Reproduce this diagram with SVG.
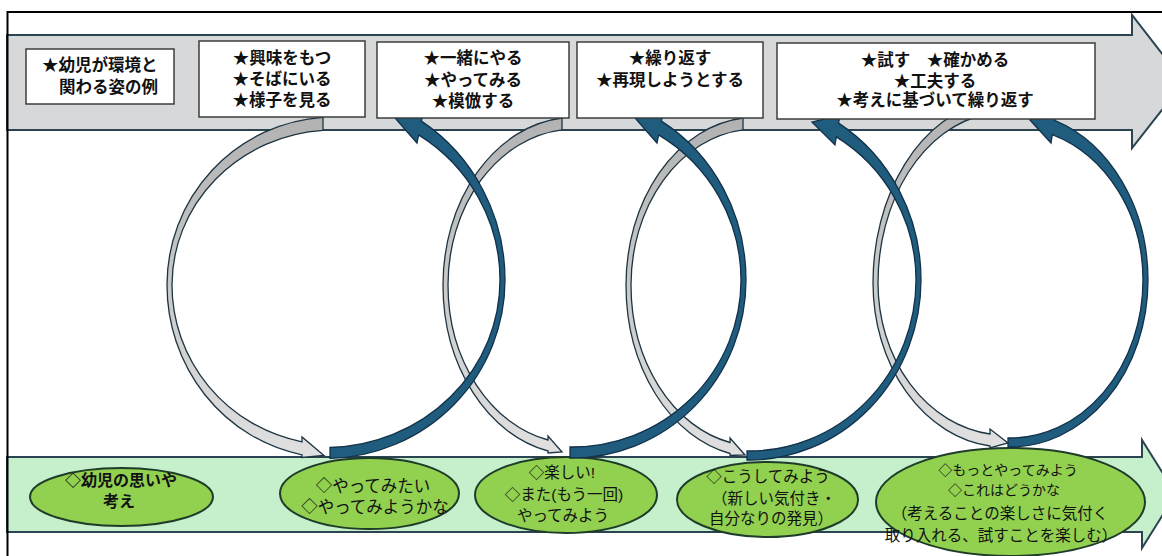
<svg xmlns="http://www.w3.org/2000/svg" width="1162" height="556" viewBox="0 0 1162 556">
<defs>
<linearGradient id="gg" x1="0" y1="0" x2="0" y2="1">
<stop offset="0" stop-color="#b2b2b2"/>
<stop offset="1" stop-color="#e0e0e0"/>
</linearGradient>
</defs>
<style>
.band{stroke:#2c4351;stroke-width:2;stroke-linejoin:miter}
.box{fill:#ffffff;stroke:#3c3c3c;stroke-width:1.5}
.ell{fill:#92d050;stroke:#1f3b2a;stroke-width:2}
.gray{fill:url(#gg);stroke:#1d3442;stroke-width:1.3;stroke-linejoin:miter}
.blue{fill:#1f5c7e;stroke:#12314a;stroke-width:1.3;stroke-linejoin:miter}
text{font-family:"Liberation Sans","Noto Sans CJK JP","Noto Sans CJK SC",sans-serif;dominant-baseline:central;text-anchor:middle;fill:#111111}
.tb{font-size:16.5px;font-weight:700}
.st{text-anchor:start}
.e1{font-size:16px;font-weight:700}
.e2{font-size:16.5px}
.e3{font-size:15.5px}
.e5{font-size:14px}
.e5b{font-size:15.5px}
</style>
<rect x="0" y="0" width="1162" height="556" fill="#ffffff"/>

<g id="top-band">
<path class="band" fill="#d6d8d9" d="M7,35 H1132 V15 L1184,82 L1132,148 V130 H7 Z"/>
</g>
<g id="bottom-band">
<path class="band" fill="#c6efcb" d="M7,457 H1142 V440 L1176,494 L1142,548 V532 H7 Z"/>
</g>

<g id="e1">
<ellipse class="ell" cx="121.5" cy="497" rx="91.5" ry="29"/>
<text class="e1" x="121" y="480">◇幼児の思いや</text>
<text class="e1" x="119" y="501">考え</text>
</g>
<g id="e2">
<ellipse class="ell" cx="369.5" cy="493.5" rx="89.5" ry="35.5"/>
<text class="e2" x="373" y="486">◇やってみたい</text>
<text class="e2" x="375" y="507">◇やってみようかな</text>
</g>
<g id="e3">
<ellipse class="ell" cx="566" cy="495" rx="91" ry="38"/>
<text class="e3" x="562" y="472">◇楽しい!</text>
<text class="e3" x="564" y="494">◇また(もう一回)</text>
<text class="e3" x="563" y="515">やってみよう</text>
</g>
<g id="e4">
<ellipse class="ell" cx="767.5" cy="499.5" rx="90.5" ry="37.5"/>
<text class="e3" x="768" y="476">◇こうしてみよう</text>
<text class="e3" x="774" y="498">（新しい気付き・</text>
<text class="e3" x="771" y="518">自分なりの発見）</text>
</g>
<g id="e5">
<ellipse class="ell" cx="1010.5" cy="502" rx="134.5" ry="54"/>
<text class="e5" x="1008" y="470">◇もっとやってみよう</text>
<text class="e5" x="1004" y="490">◇これはどうかな</text>
<text class="e5b" x="1000" y="513">（考えることの楽しさに気付く</text>
<text class="e5b" x="1001" y="535">取り入れる、試すことを楽しむ）</text>
</g>

<g id="connectors">
<path id="grayA" class="gray" d="M323,117.4 A167,168 0 0 0 167,285 A167,173 0 0 0 302,454.8 L302,457.5 L324,455.5 L302,437 L302,441.8 A162,160 0 0 1 172,285 A162,155 0 0 1 323,130.4 Z"/>
<path id="grayB" class="gray" d="M562,118 A132,167.8 0 0 0 443,285 A132,169.6 0 0 0 548,451 L548,453 L562,452 L548,436 L548,440 A127,158.6 0 0 1 448,285 A127,156 0 0 1 562,129.8 Z"/>
<path id="grayC" class="gray" d="M743,118 A130,167.8 0 0 0 626,285 A130,172 0 0 0 730,453.5 L730,455.5 L745,455 L730,438 L730,442.5 A125,161 0 0 1 631,285 A125,156 0 0 1 743,129.8 Z"/>
<path id="grayD" class="gray" d="M985,102.5 A132,182.6 0 0 0 873,283 A132,164 0 0 0 990,446 L990,448 L1008,443 L990,429 L990,434 A127,152 0 0 1 878,283 A127,170.6 0 0 1 985,114.5 Z"/>
<path id="blueA" class="blue" d="M330,458.4 A180,178.4 0 0 0 505,280 A182,188.9 0 0 0 421.4,121.1 L423,113 L395,118 L417,143 L418.6,134.9 A177,172.4 0 0 1 500,280 A175,167.5 0 0 1 330,447.5 Z"/>
<path id="blueB" class="blue" d="M570,458 A174,178 0 0 0 746,280 A174,185.2 0 0 0 661.4,121.1 L663,113 L635,118 L657,143 L658.6,134.9 A169,169 0 0 1 741,280 A169,167 0 0 1 570,447 Z"/>
<path id="blueC" class="blue" d="M747,460 A172,180 0 0 0 921,280 A173,184.2 0 0 0 838.6,123.1 L840,115 L812,122 L835,145 L836.3,136.9 A168,168.2 0 0 1 916,280 A167,171 0 0 1 747,451 Z"/>
<path id="blueD" class="blue" d="M1008,447 A138,167 0 0 0 1148,280 A138,168.7 0 0 0 1054.6,120.4 L1056,112 L1030,120 L1051,143 L1052.3,134.6 A133,153.4 0 0 1 1143,280 A133,158 0 0 1 1008,438 Z"/>
</g>

<g id="box1">
<rect class="box" x="26" y="49" width="148" height="55"/>
<text class="tb st" x="42" y="65">★幼児が環境と</text>
<text class="tb st" x="59" y="87">関わる姿の例</text>
</g>
<g id="box2">
<rect class="box" x="199" y="41" width="166" height="76"/>
<text class="tb" x="282" y="58">★興味をもつ</text>
<text class="tb" x="282" y="79">★そばにいる</text>
<text class="tb" x="282" y="100">★様子を見る</text>
</g>
<g id="box3">
<rect class="box" x="377" y="42" width="192" height="76"/>
<text class="tb" x="473" y="58">★一緒にやる</text>
<text class="tb" x="473" y="80">★やってみる</text>
<text class="tb" x="473" y="101">★模倣する</text>
</g>
<g id="box4">
<rect class="box" x="577" y="42" width="186" height="76"/>
<text class="tb" x="670" y="58">★繰り返す</text>
<text class="tb" x="670" y="80">★再現しようとする</text>
</g>
<g id="box5">
<rect class="box" x="777" y="43" width="318" height="76"/>
<text class="tb" x="935" y="60">★試す　★確かめる</text>
<text class="tb" x="935" y="81">★工夫する</text>
<text class="tb" x="935" y="100">★考えに基づいて繰り返す</text>
</g>

<path id="frame" d="M7.5,556 V12 H1162" fill="none" stroke="#000000" stroke-width="2"/>
</svg>
